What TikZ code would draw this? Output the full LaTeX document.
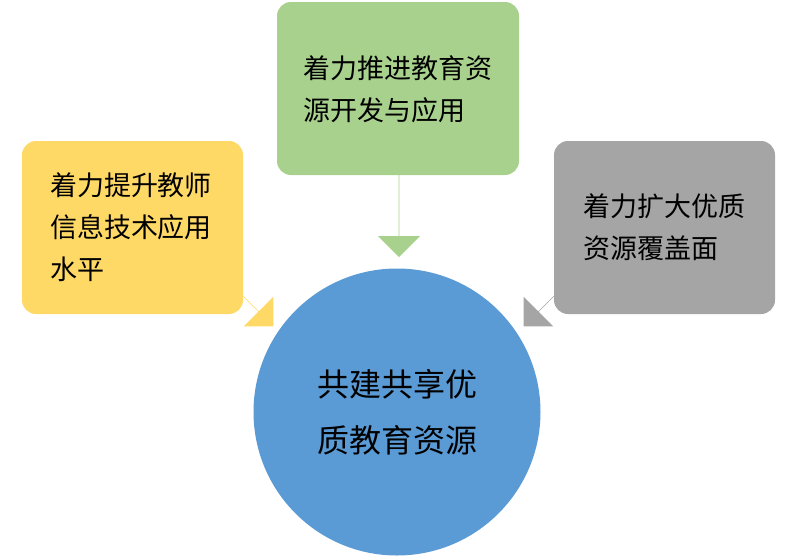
\documentclass[tikz,border=0pt]{standalone}
\usepackage{fontspec}
\setmainfont{Noto Sans CJK SC}
\usetikzlibrary{shapes.arrows}
\definecolor{cgreen}{HTML}{A9D18E}
\definecolor{cyellow}{HTML}{FFD966}
\definecolor{cgray}{HTML}{A5A5A5}
\definecolor{cblue}{HTML}{5B9BD5}
\tikzset{
  topicbox/.style={rounded corners=14pt, inner sep=0pt, font=\fontsize{27}{42}\selectfont, align=left},
  fatarrow/.style={single arrow, single arrow head extend=14pt, minimum height=#1, minimum width=42pt, inner sep=0pt}
}
\begin{document}
\begin{tikzpicture}[x=1pt,y=-1pt]
\useasboundingbox (0,0) rectangle (796,560);

% arrows
\node[fatarrow=82pt, fill=cgreen, rotate=-90] (agreen) at (399,216) {};
\node[fatarrow=80pt, fill=cyellow, rotate=-45] (ayellow) at (245,298) {};
\node[fatarrow=80pt, fill=cgray, rotate=-135] (agray) at (552,298) {};

% boxes
\fill[cgreen, rounded corners=14pt] (277,2) rectangle (519,175);
\node[topicbox] (tgreen) at (398,89) {着力推进教育资\\源开发与应用};
\fill[cyellow, rounded corners=14pt] (22,141) rectangle (243,314);
\node[topicbox] (tyellow) at (131,227) {着力提升教师\\信息技术应用\\水平};
\fill[cgray, rounded corners=14pt] (554,141) rectangle (775,314);
\node[topicbox] (tgray) at (664,227) {着力扩大优质\\资源覆盖面};

% centre
\node[circle, fill=cblue, minimum size=287pt, inner sep=0pt] (core) at (397,412) {};
\node[font=\fontsize{32}{56}\selectfont, align=center] (tcore) at (397,412) {共建共享优\\质教育资源};
\end{tikzpicture}
\end{document}
